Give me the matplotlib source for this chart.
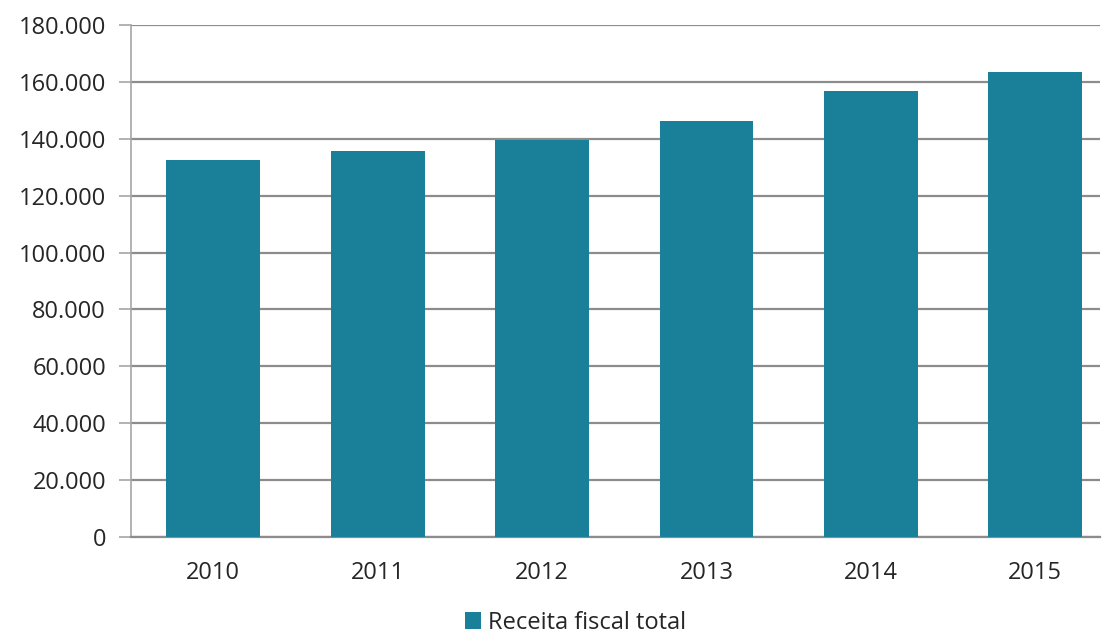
import matplotlib.pyplot as plt
from matplotlib.patches import Patch

years = ["2010", "2011", "2012", "2013", "2014", "2015"]
receita = [132600, 135700, 139600, 146300, 156800, 163500]
y_ticks = [0, 20000, 40000, 60000, 80000, 100000, 120000, 140000, 160000, 180000]

BAR_COLOR = "#1a8099"
GRID_COLOR = "#8c8c8c"
TEXT_COLOR = "#262626"

plt.rcParams["font.family"] = ["Open Sans", "DejaVu Sans"]

fig = plt.figure(figsize=(11.05, 6.37), dpi=100)
ax = fig.add_axes([0.1186, 0.157, 0.8769, 0.8038])

x = range(len(years))
ax.bar(x, receita, width=0.57, color=BAR_COLOR, zorder=3)

ax.set_xlim(-0.5, 5.394)
ax.set_ylim(0, 180000)
ax.set_yticks(y_ticks)
ax.set_yticklabels(["0" if v == 0 else f"{v:,}".replace(",", ".") for v in y_ticks])
ax.set_xticks(list(x))
ax.set_xticklabels(years)

ax.yaxis.grid(True, color=GRID_COLOR, linewidth=1.6, zorder=0)
for side in ("top", "right"):
    ax.spines[side].set_visible(False)
ax.spines["left"].set_color("#a6a6a6")
ax.spines["left"].set_linewidth(1.2)
ax.spines["bottom"].set_color(GRID_COLOR)
ax.spines["bottom"].set_linewidth(1.6)

ax.tick_params(axis="y", length=9, width=1.2, color="#a6a6a6",
               labelsize=17, labelcolor=TEXT_COLOR, pad=9)
ax.tick_params(axis="x", length=0, labelsize=17, labelcolor=TEXT_COLOR, pad=17)

handle = Patch(facecolor=BAR_COLOR, label="Receita fiscal total")
fig.legend(handles=[handle], loc="center", bbox_to_anchor=(0.521, 0.022),
           frameon=False, fontsize=17, handlelength=0.7, handleheight=0.7,
           handletextpad=0.3, labelcolor=TEXT_COLOR, borderpad=0.1)

fig.savefig("out.png", dpi=100)
plt.close(fig)
